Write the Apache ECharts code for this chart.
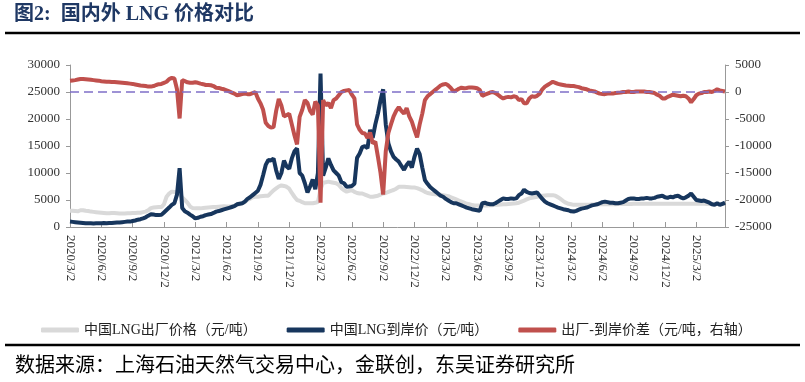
<!DOCTYPE html>
<html>
<head>
<meta charset="utf-8">
<script src="https://cdn.jsdelivr.net/npm/echarts@6/dist/echarts.min.js"></script>
<style>
html,body{margin:0;padding:0;background:#fff;}
#chart{width:805px;height:382px;}
</style>
</head>
<body>
<div id="chart"></div>
<script>
// Categories: weekly sample dates (2nd, 9th, 16th, 23rd of each month), 2020/3 - 2025/5
const categories = [];
for (let y = 2020, m = 3; y < 2025 || (y === 2025 && m <= 5); ) {
  [2, 9, 16, 23].forEach(d => categories.push(y + '/' + m + '/' + d));
  m++; if (m > 12) { m = 1; y++; }
}

const seriesNames = ['中国LNG出厂价格（元/吨）', '中国LNG到岸价（元/吨）', '出厂-到岸价差（元/吨，右轴）'];

// 中国LNG出厂价格 (元/吨)
const factoryPrice = [
  3000,3000,2950,2900, 3100,3100,3000,2950, 2850,2800,2750,2700, 2650,2600,2550,2550,
  2600,2600,2550,2500, 2500,2500,2550,2550, 2600,2600,2650,2650, 2750,2850,3100,3500,
  3600,3650,3700,3700, 4200,5600,6200,6550, 6500,6500,6000,5500, 5000,4500,3800,3500,
  3450,3450,3450,3500, 3550,3600,3650,3700, 3700,3750,3800,3850, 3800,3800,3850,3950,
  4100,4200,4400,4600, 5000,5200,5500,5600, 5600,5700,5750,5800, 5800,6300,6800,7150,
  7500,7700,7600,7450, 7100,6300,5600,5000, 4850,4600,4400,4400, 4400,4400,4500,4600,
  7000,8200,8300,8400, 8300,8200,8100,7800, 7200,6800,6550,6700, 6850,6500,6300,6200,
  6200,6000,5800,5600, 5600,5700,5800,6000, 6200,6300,6500,6700, 6850,7100,7450,7450,
  7450,7400,7350,7300, 7300,7200,7000,6800, 6500,6300,6200,6100, 6050,6000,6000,5900,
  5800,5700,5500,5300, 5100,4900,4700,4500, 4300,4200,4100,4000, 4000,4000,4000,4000,
  4000,4050,4050,4100, 4100,4150,4200,4200, 4250,4300,4350,4400, 4500,4700,4900,5100,
  5300,5400,5500,5600, 5700,5800,5850,5900, 5900,5900,5800,5500, 5200,4800,4500,4300,
  4200,4100,4100,4100, 4100,4100,4100,4100, 4150,4150,4200,4200, 4200,4200,4200,4200,
  4200,4200,4250,4250, 4250,4250,4250,4250, 4300,4300,4300,4300, 4300,4300,4300,4300,
  4300,4300,4300,4300, 4300,4300,4300,4300, 4300,4300,4300,4300, 4300,4300,4300,4300,
  4300,4300,4300,4300, 4250,4250,4250,4250, 4250,4250,4250,4250
];

// 中国LNG到岸价 (元/吨)
const arrivalPrice = [
  1000,950,900,850, 800,750,700,700, 680,650,680,700, 700,720,700,750,
  750,800,850,850, 900,950,1000,1000, 1100,1200,1350,1450, 1600,1800,2100,2350,
  2300,2200,2200,2250, 2700,3150,3600,4100, 4400,6000,10900,3500, 2900,2650,2300,2000,
  1600,1700,1900,2000, 2200,2300,2400,2600, 2850,2950,3100,3250, 3400,3550,3700,3850,
  4200,4300,4400,4700, 5200,5500,5900,6300, 6700,7800,9600,11500, 12400,12300,12700,10500,
  8900,10000,12300,11200, 10800,12700,14000,14550, 10000,9500,8100,6400, 7500,8800,7000,10000,
  28400,9500,11000,12700, 11500,10500,10000,9500, 8300,8100,7450,7500, 7600,8000,12800,13600,
  14800,15000,14600,18000, 16500,19000,21000,23500, 25500,19000,15500,14000, 13000,12500,12100,11300,
  10600,11500,12100,11000, 13000,14500,13500,11000, 8700,8000,7400,7000, 6600,6200,5800,5600,
  5200,4900,4600,4400, 4400,4200,4000,3800, 3600,3450,3300,3200, 3100,3000,4400,4500,
  4300,4200,4200,4400, 4700,5000,5300,5200, 5200,5300,5250,5300, 5900,6200,6900,6500,
  6300,6200,6300,6400, 5800,5200,4700,4400, 4200,4000,3800,3600, 3450,3300,3200,3100,
  2900,2850,3000,3200, 3400,3500,3600,3800, 4000,4100,4200,4400, 4600,4700,4600,4500,
  4500,4400,4400,4500, 4600,4900,5200,5300, 5300,5200,5200,5300, 5300,5400,5300,5300,
  5400,5600,5700,5800, 5500,5400,5600,5500, 5700,5800,5500,5300, 5500,5800,6200,5600,
  5000,4900,4800,4900, 4700,4500,4200,4100, 4400,4100,4300,4500
];

// 出厂-到岸价差 (元/吨, 右轴)
const priceSpread = [
  2100,2150,2200,2300, 2400,2400,2350,2300, 2250,2200,2150,2100, 2000,1950,1900,1900,
  1850,1850,1800,1750, 1700,1650,1600,1550, 1500,1400,1300,1200, 1150,1100,1000,1000,
  1100,1300,1450,1500, 1700,1900,2400,2600, 2500,500,-4900,2200, 2000,1800,1700,1700,
  1800,1700,1550,1450, 1300,1300,1250,1100, 800,750,600,500, 300,100,-100,-300,
  -600,-500,-400,-300, -400,-400,-200,0, -1200,-2100,-3300,-5700, -6300,-6600,-6500,-3500,
  -1300,-2500,-4500,-4300, -4000,-6000,-8000,-9700, -4600,-3300,-1500,-2000, -3500,-4200,-1800,-2500,
  -20500,-1500,-2500,-2000, -3000,-1500,-1200,-600, 0,200,300,350, -500,-1200,-6000,-7000,
  -7600,-7700,-8500,-7500, -9500,-9200,-12000,-15000, -19000,-11000,-7600,-6000, -4500,-3500,-2800,-3500,
  -4000,-3000,-4500,-5500, -7000,-8400,-6000,-4000, -1500,-800,-400,0, 400,800,1200,1400,
  1500,1200,700,100, 300,600,800,700, 750,850,850,800, 700,400,-700,-500,
  -300,-100,0,-200, -500,-900,-1200,-1000, -900,-1000,-800,-900, -1500,-1300,-2100,-2100,
  -1200,-800,-900,-700, -300,500,1000,1300, 1600,1900,1700,1500, 1400,1300,1200,1150,
  1100,1100,1000,900, 700,600,500,300, 200,100,-100,-300, -350,-400,-300,-300,
  -300,-200,-150,-100, 0,0,100,0, 0,100,100,100, 100,0,0,-100,
  -200,-500,-700,-1200, -1200,-900,-700,-500, -600,-700,-800,-700, -800,-1200,-1900,-1300,
  -600,-300,-200,0, 0,100,0,200, 500,300,200,100
];

const titleText = '图2:  国内外 LNG 价格对比';
const sourceText = '数据来源：上海石油天然气交易中心，金联创，东吴证券研究所';

const serif = '"Liberation Serif", "Noto Sans CJK SC", serif';
const showQuarter = (idx, val) => /\/(3|6|9|12)\/2$/.test(val);
const plainNum = v => String(v);

const chart = echarts.init(document.getElementById('chart'));
chart.setOption({
  animation: false,
  backgroundColor: '#fff',
  grid: { left: 70, right: 80, top: 65, bottom: 155, containLabel: false },
  legend: {
    left: 36, top: 318, itemWidth: 38, itemHeight: 5, itemGap: 30, icon: 'roundRect',
    textStyle: { fontFamily: serif, fontSize: 14, color: '#222' },
    data: seriesNames
  },
  xAxis: {
    type: 'category', data: categories, boundaryGap: false,
    axisLine: { lineStyle: { color: '#999', width: 1 } },
    axisTick: { show: true, inside: true, length: 5, interval: showQuarter, lineStyle: { color: '#999' } },
    axisLabel: { interval: showQuarter, rotate: -90, margin: 8, fontFamily: serif, fontSize: 13, color: '#333' },
    splitLine: { show: false }
  },
  yAxis: [
    {
      type: 'value', min: 0, max: 30000, interval: 5000, position: 'left',
      axisLine: { show: true, lineStyle: { color: '#999' } },
      axisTick: { show: true, length: 4, lineStyle: { color: '#999' } },
      axisLabel: { margin: 10, fontFamily: serif, fontSize: 13, color: '#333', formatter: plainNum },
      splitLine: { show: false }
    },
    {
      type: 'value', min: -25000, max: 5000, interval: 5000, position: 'right',
      axisLine: { show: true, lineStyle: { color: '#999' } },
      axisTick: { show: true, length: 4, lineStyle: { color: '#999' } },
      axisLabel: { margin: 10, fontFamily: serif, fontSize: 13, color: '#333', formatter: plainNum },
      splitLine: { show: false }
    }
  ],
  series: [
    { name: seriesNames[0], type: 'line', data: factoryPrice, yAxisIndex: 0, showSymbol: false,
      color: '#d9d9d9', lineStyle: { width: 4, color: '#d9d9d9' }, z: 2 },
    { name: seriesNames[1], type: 'line', data: arrivalPrice, yAxisIndex: 0, showSymbol: false,
      color: '#17365d', lineStyle: { width: 4, color: '#17365d' }, z: 3 },
    { name: seriesNames[2], type: 'line', data: priceSpread, yAxisIndex: 1, showSymbol: false,
      color: '#c0504d', lineStyle: { width: 4, color: '#c0504d' }, z: 4,
      markLine: {
        silent: true, symbol: 'none', label: { show: false },
        lineStyle: { color: '#7f6fc8', width: 1.5, type: [9, 5] },
        data: [{ yAxis: 0 }]
      }
    }
  ],
  graphic: [
    { type: 'text', left: 14, top: 5,
      style: { text: titleText, font: 'bold 20px "Liberation Serif", "Noto Sans CJK SC"', fill: '#1f3864' } },
    { type: 'line', shape: { x1: 5, y1: 33, x2: 800, y2: 33 }, style: { stroke: '#000', lineWidth: 2.5 } },
    { type: 'line', shape: { x1: 5, y1: 345, x2: 800, y2: 345 }, style: { stroke: '#000', lineWidth: 2.5 } },
    { type: 'text', left: 15, top: 354,
      style: { text: sourceText, font: '20px "Noto Sans CJK SC"', fill: '#000' } }
  ]
});
</script>
</body>
</html>
